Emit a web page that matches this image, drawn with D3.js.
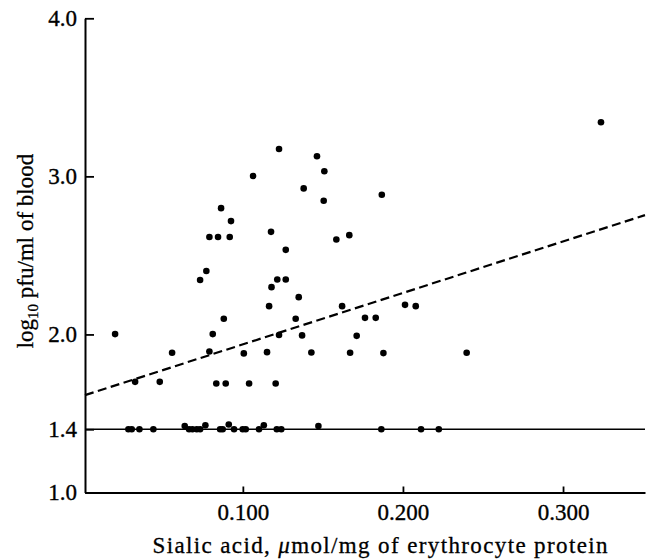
<!DOCTYPE html>
<html>
<head>
<meta charset="utf-8">
<script src="https://cdn.jsdelivr.net/npm/d3@7"></script>
<style>
  body { margin: 0; background: #fff; }
  svg text { font-family: "Liberation Serif", "Times New Roman", serif; fill: #000; }
</style>
</head>
<body>
<svg id="chart" width="648" height="560"></svg>
<script>
// sialic acid (umol/mg protein) vs log10 pfu/ml, points above detection limit
var sialicHigh = [0.1226, 0.1064, 0.0864, 0.0926, 0.0791, 0.0845, 0.0918, 0.1176, 0.0772, 0.0733,
                  0.1215, 0.1268, 0.1179, 0.1463, 0.1509, 0.1380, 0.1505, 0.1868, 0.1268, 0.1584,
                  0.1665, 0.1349, 0.1164, 0.0202, 0.0812, 0.0881, 0.0558, 0.0791, 0.1006, 0.1151,
                  0.1226, 0.0327, 0.0481, 0.0834, 0.0893, 0.1039, 0.1205, 0.1330, 0.1620, 0.1763,
                  0.1830, 0.2013, 0.2080, 0.1370, 0.1711, 0.1428, 0.1670, 0.1878, 0.3237, 0.2398];
var pfuHigh =    [3.173, 3.002, 2.799, 2.717, 2.616, 2.616, 2.616, 2.649, 2.401, 2.344,
                  2.348, 2.348, 2.299, 3.127, 3.032, 2.924, 2.846, 2.884, 2.535, 2.601,
                  2.628, 2.236, 2.179, 2.002, 2.002, 2.099, 1.884, 1.892, 1.880, 1.888,
                  1.996, 1.700, 1.700, 1.690, 1.690, 1.690, 1.690, 2.099, 2.179, 2.105,
                  2.105, 2.187, 2.179, 1.994, 1.991, 1.886, 1.884, 1.882, 3.342, 1.884];

// points sitting at the detection limit (1.4)
var sialicLow = [0.0285, 0.0306, 0.0354, 0.0441, 0.0637, 0.0664, 0.0685, 0.0712, 0.0733, 0.0766,
                 0.0858, 0.0874, 0.0912, 0.0945, 0.0999, 0.1018, 0.1101, 0.1131, 0.1212, 0.1240,
                 0.1472, 0.1865, 0.2113, 0.2224];
var pfuLow =    [1.40, 1.40, 1.40, 1.40, 1.42, 1.40, 1.40, 1.40, 1.40, 1.425,
                 1.40, 1.40, 1.43, 1.40, 1.40, 1.40, 1.40, 1.425, 1.40, 1.40,
                 1.42, 1.40, 1.40, 1.40];

var xDomain = [0.0014, 0.3512];
var yDomain = [1.0, 4.0];
var xTicks = [0.1, 0.2, 0.3];
var yTicks = [1.0, 1.4, 2.0, 3.0, 4.0];

// regression line (dashed) and detection limit (solid) end points
var fitX = [0.0014, 0.3512];
var fitY = [1.616, 2.755];
var limitX = [0.0014, 0.3512];
var limitY = [1.4, 1.4];

var svg = d3.select('#chart');

var x = d3.scaleLinear().domain(xDomain).range([85, 645]);
var y = d3.scaleLinear().domain(yDomain).range([492.5, 18.3]);

var line = d3.line().x(function(d){ return x(d[0]); }).y(function(d){ return y(d[1]); });

//detection limit
svg.append('path')
  .datum(d3.zip(limitX, limitY))
  .attr('d', line)
  .attr('fill', 'none')
  .attr('stroke', '#000')
  .attr('stroke-width', 1.6);

//regression
svg.append('path')
  .datum(d3.zip(fitX, fitY))
  .attr('d', line)
  .attr('fill', 'none')
  .attr('stroke', '#000')
  .attr('stroke-width', 2.2)
  .attr('stroke-dasharray', '9,4.5');

//axes
var xAxis = svg.append('g')
  .attr('transform', 'translate(0,' + y(1.0) + ')')
  .call(d3.axisBottom(x).tickValues(xTicks).tickFormat(d3.format('.3f'))
        .tickSize(-6).tickSizeOuter(0).tickPadding(11));

var yAxis = svg.append('g')
  .attr('transform', 'translate(' + x(xDomain[0]) + ',0)')
  .call(d3.axisLeft(y).tickValues(yTicks).tickFormat(d3.format('.1f'))
        .tickSize(-9).tickSizeOuter(0).tickPadding(8));

svg.selectAll('.domain').attr('stroke-width', 2);
svg.selectAll('.tick line').attr('stroke-width', 1.8);
svg.selectAll('.tick text')
  .style('font-size', '23px')
  .attr('stroke', '#000')
  .attr('stroke-width', 0.35);

//points
var allX = sialicHigh.concat(sialicLow);
var allY = pfuHigh.concat(pfuLow);
svg.append('g').selectAll('circle')
  .data(d3.zip(allX, allY))
  .enter().append('circle')
  .attr('cx', function(d){ return x(d[0]); })
  .attr('cy', function(d){ return y(d[1]); })
  .attr('r', 3.3)
  .attr('fill', '#000');

//axis titles
var xt = svg.append('text')
  .attr('x', 380)
  .attr('y', 553)
  .attr('text-anchor', 'middle')
  .style('font-size', '23px')
  .attr('stroke', '#000')
  .attr('stroke-width', 0.3);
xt.append('tspan').text('Sialic acid, ');
xt.append('tspan').style('font-style', 'italic').text('\u03bc');
xt.append('tspan').text('mol/mg of erythrocyte protein');
xt.attr('textLength', 455).attr('lengthAdjust', 'spacing');

var yt = svg.append('text')
  .attr('transform', 'translate(33,251) rotate(-90)')
  .attr('text-anchor', 'middle')
  .style('font-size', '23px')
  .attr('stroke', '#000')
  .attr('stroke-width', 0.3);
yt.append('tspan').text('log');
yt.append('tspan').attr('dy', 5).style('font-size', '15px').text('10');
yt.append('tspan').attr('dy', -5).text(' pfu/ml of blood');
</script>
</body>
</html>
